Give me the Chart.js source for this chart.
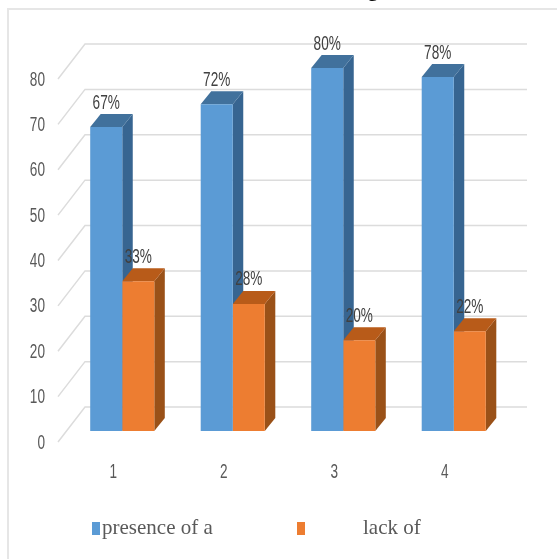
<!DOCTYPE html>
<html>
<head>
<meta charset="utf-8">
<script src="https://cdn.jsdelivr.net/npm/chart.js@4"></script>
<style>
  html, body { margin: 0; padding: 0; background: #fff; }
  #wrap { position: relative; width: 557px; height: 559px; overflow: hidden; }
  #frame { position: absolute; left: 7px; top: 8px; width: 560px; height: 560px; border: 2px solid #e6e6e6; box-sizing: border-box; }
  canvas { position: absolute; left: 0; top: 0; }
</style>
</head>
<body>
<div id="wrap">
  <div id="frame"></div>
  <canvas id="barChart" width="557" height="559"></canvas>
</div>
<script>
// Chart data
const categories = ['1', '2', '3', '4'];
const seriesNames = ['presence of a', 'lack of'];
const presenceValues = [67, 72, 80, 78];
const lackValues = [33, 28, 20, 22];

const depthX = 10.5;
const depthY = 13;

// faces of the extruded bars, per dataset: [front, top, side]
const faceColors = [
    ['#5b9bd5', '#41719c', '#376591'],
    ['#ed7d31', '#b85b19', '#9a5118']
];

const fillPoly = (ctx, color, pts) => {
    ctx.fillStyle = color;
    ctx.beginPath();
    pts.forEach((p, i) => i ? ctx.lineTo(p[0], p[1]) : ctx.moveTo(p[0], p[1]));
    ctx.closePath();
    ctx.fill();
};

// tall squeezed digits, no condensed face is installed so scale a regular one
const narrowText = (ctx, text, x, y, align, color) => {
    ctx.save();
    ctx.translate(x, y);
    ctx.scale(0.68, 1);
    ctx.font = '20px "Liberation Sans", sans-serif';
    ctx.fillStyle = color;
    ctx.textAlign = align;
    ctx.textBaseline = 'middle';
    ctx.fillText(text, 0, 0);
    ctx.restore();
};

// back wall gridlines plus the diagonal running down to the value axis
const wallGrid = {
    id: 'wallGrid',
    beforeDatasetsDraw(chart) {
        const { ctx, scales: { y } } = chart;
        ctx.save();
        ctx.strokeStyle = '#dcdcdc';
        ctx.lineWidth = 1.5;
        y.ticks.forEach(t => {
            const py = y.getPixelForValue(t.value);
            ctx.beginPath();
            ctx.moveTo(58, py + 11);
            ctx.lineTo(85, py - 24);
            ctx.lineTo(527, py - 24);
            ctx.stroke();
        });
        ctx.restore();
    }
};

// top and side of each bar, drawn before the library paints the fronts
const barDepth = {
    id: 'barDepth',
    beforeDatasetsDraw(chart) {
        const ctx = chart.ctx;
        chart.data.datasets.forEach((ds, d) => {
            chart.getDatasetMeta(d).data.forEach(bar => {
                const { x, y, base, width } = bar.getProps(['x', 'y', 'base', 'width']);
                const left = x - width / 2;
                const right = x + width / 2;
                fillPoly(ctx, faceColors[d][2], [[right, y], [right + depthX, y - depthY], [right + depthX, base - depthY], [right, base]]);
                fillPoly(ctx, faceColors[d][1], [[left, y], [right, y], [right + depthX, y - depthY], [left + depthX, y - depthY]]);
            });
        });
    }
};

// percent labels, axis labels, legend row
const barText = {
    id: 'barText',
    afterDatasetsDraw(chart) {
        const ctx = chart.ctx;
        chart.data.datasets.forEach((ds, d) => {
            chart.getDatasetMeta(d).data.forEach((bar, i) => {
                narrowText(ctx, ds.data[i] + '%', bar.x, bar.y - 24, 'center', '#404040');
            });
        });
    },
    afterDraw(chart) {
        const { ctx, scales: { x, y } } = chart;
        y.ticks.forEach(t => {
            narrowText(ctx, t.label, 45, y.getPixelForValue(t.value) + 12, 'right', '#595959');
        });
        x.ticks.forEach((t, i) => {
            narrowText(ctx, t.label, x.getPixelForTick(i) - 9, 472, 'center', '#595959');
        });

        ctx.save();
        ctx.fillStyle = faceColors[0][0];
        ctx.fillRect(92, 522, 8, 13);
        ctx.fillStyle = faceColors[1][0];
        ctx.fillRect(297, 522, 8, 13);
        ctx.font = '21px "Liberation Serif", serif';
        ctx.textBaseline = 'alphabetic';
        ctx.fillStyle = '#595959';
        ctx.fillText(seriesNames[0], 102, 534);
        ctx.fillText(seriesNames[1], 363, 534);
        // tail of the heading, which runs off the top edge
        ctx.font = 'bold 20px "Liberation Serif", serif';
        ctx.fillStyle = '#111';
        ctx.fillText('g', 368, -4);
        ctx.restore();
    }
};

const ctx = document.getElementById('barChart').getContext('2d');
const barChart = new Chart(ctx, {
    type: 'bar',
    data: {
        labels: categories,
        datasets: [
            { label: seriesNames[0], data: presenceValues, backgroundColor: faceColors[0][0], clip: false },
            { label: seriesNames[1], data: lackValues, backgroundColor: faceColors[1][0], clip: false }
        ]
    },
    options: {
        responsive: false,
        animation: false,
        layout: { padding: { top: 68, right: 48, left: 67, bottom: 128 } },
        plugins: {
            legend: { display: false },
            title: { display: false },
            tooltip: { enabled: false }
        },
        categoryPercentage: 0.58,
        barPercentage: 1,
        scales: {
            x: {
                grid: { display: false },
                border: { display: false },
                ticks: { display: false },
                afterFit: (scale) => { scale.height = 0; }
            },
            y: {
                min: 0,
                max: 80,
                grid: { display: false },
                border: { display: false },
                ticks: { stepSize: 10, display: false },
                afterFit: (scale) => { scale.width = 0; }
            }
        }
    },
    plugins: [wallGrid, barDepth, barText]
});
</script>
</body>
</html>
